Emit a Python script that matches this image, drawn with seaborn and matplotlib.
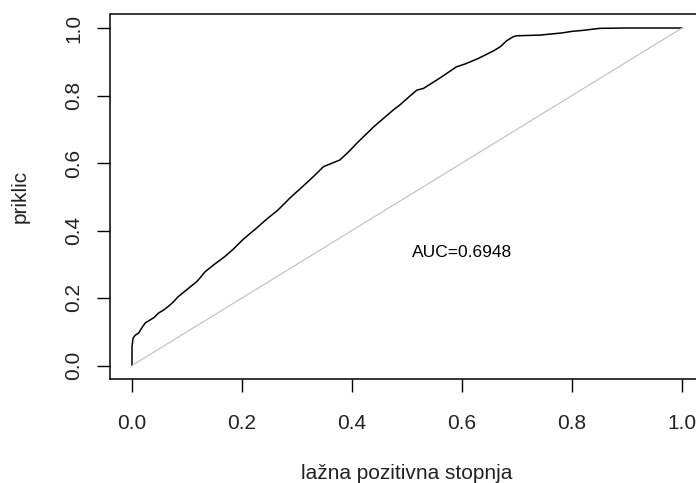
import matplotlib
matplotlib.use("Agg")
import matplotlib.pyplot as plt
import seaborn as sns
import pandas as pd

# ROC curve: false positive rate vs. recall
fpr = [0.000, 0.000, 0.000, 0.002, 0.006, 0.012, 0.018, 0.024, 0.033, 0.040,
       0.048, 0.058, 0.066, 0.075, 0.084, 0.100, 0.118, 0.125, 0.133, 0.150,
       0.169, 0.185, 0.196, 0.205, 0.225, 0.245, 0.265, 0.287, 0.310, 0.330,
       0.348, 0.360, 0.378, 0.395, 0.409, 0.440, 0.475, 0.487, 0.505, 0.518,
       0.530, 0.560, 0.590, 0.605, 0.630, 0.657, 0.670, 0.681, 0.693, 0.700,
       0.742, 0.760, 0.780, 0.800, 0.820, 0.851, 0.900, 1.000]
tpr = [0.000, 0.030, 0.056, 0.081, 0.090, 0.096, 0.112, 0.126, 0.135, 0.142,
       0.155, 0.165, 0.175, 0.188, 0.204, 0.225, 0.249, 0.262, 0.278, 0.300,
       0.323, 0.346, 0.364, 0.378, 0.405, 0.434, 0.460, 0.496, 0.530, 0.560,
       0.589, 0.597, 0.609, 0.635, 0.659, 0.708, 0.757, 0.772, 0.798, 0.816,
       0.821, 0.852, 0.885, 0.893, 0.910, 0.932, 0.945, 0.962, 0.974, 0.977,
       0.979, 0.982, 0.985, 0.990, 0.993, 0.999, 1.000, 1.000]
diag = [0.0, 1.0]
auc_text = "AUC=0.6948"
auc_pos = (0.60, 0.335)

roc = pd.DataFrame({"fpr": fpr, "tpr": tpr})
ref = pd.DataFrame({"x": diag, "y": diag})

sns.set_theme(style="ticks")
plt.rcParams["font.family"] = ["Liberation Sans", "DejaVu Sans"]

fig = plt.figure(figsize=(6.96, 4.83), dpi=100)
ax = fig.add_axes([110 / 696, 104 / 483, 594 / 696, 364.5 / 483])

sns.lineplot(data=roc, x="fpr", y="tpr", sort=False, estimator=None,
             color="black", linewidth=1.1, ax=ax)
sns.lineplot(data=ref, x="x", y="y", sort=False, estimator=None,
             color="#BEBEBE", linewidth=0.8, ax=ax)

ax.text(auc_pos[0], auc_pos[1], auc_text, ha="center", va="center",
        fontsize=12.5, color="black")

ax.set_xlim(-0.04, 1.04)
ax.set_ylim(-0.04, 1.04)
ticks = [0.0, 0.2, 0.4, 0.6, 0.8, 1.0]
ax.set_xticks(ticks)
ax.set_yticks(ticks)
ax.set_xticklabels([f"{t:.1f}" for t in ticks])
ax.set_yticklabels([f"{t:.1f}" for t in ticks], rotation=90, va="center")
ax.tick_params(axis="both", length=9.5, width=1.0, color="black",
               labelsize=15, labelcolor="#222222", direction="out")
ax.tick_params(axis="x", pad=15.5)
ax.tick_params(axis="y", pad=10)

for s in ax.spines.values():
    s.set_visible(True)
    s.set_color("black")
    s.set_linewidth(1.1)

ax.set_xlabel("lažna pozitivna stopnja", fontsize=15, color="#222222")
ax.set_ylabel("priklic", fontsize=15, color="#222222")
ax.xaxis.label.set_va("center")
ax.yaxis.label.set_va("center")
ax.xaxis.set_label_coords(0.5, -0.26)
ax.yaxis.set_label_coords(-0.1515, 0.5)

fig.savefig("out.png", dpi=100, facecolor="white")
